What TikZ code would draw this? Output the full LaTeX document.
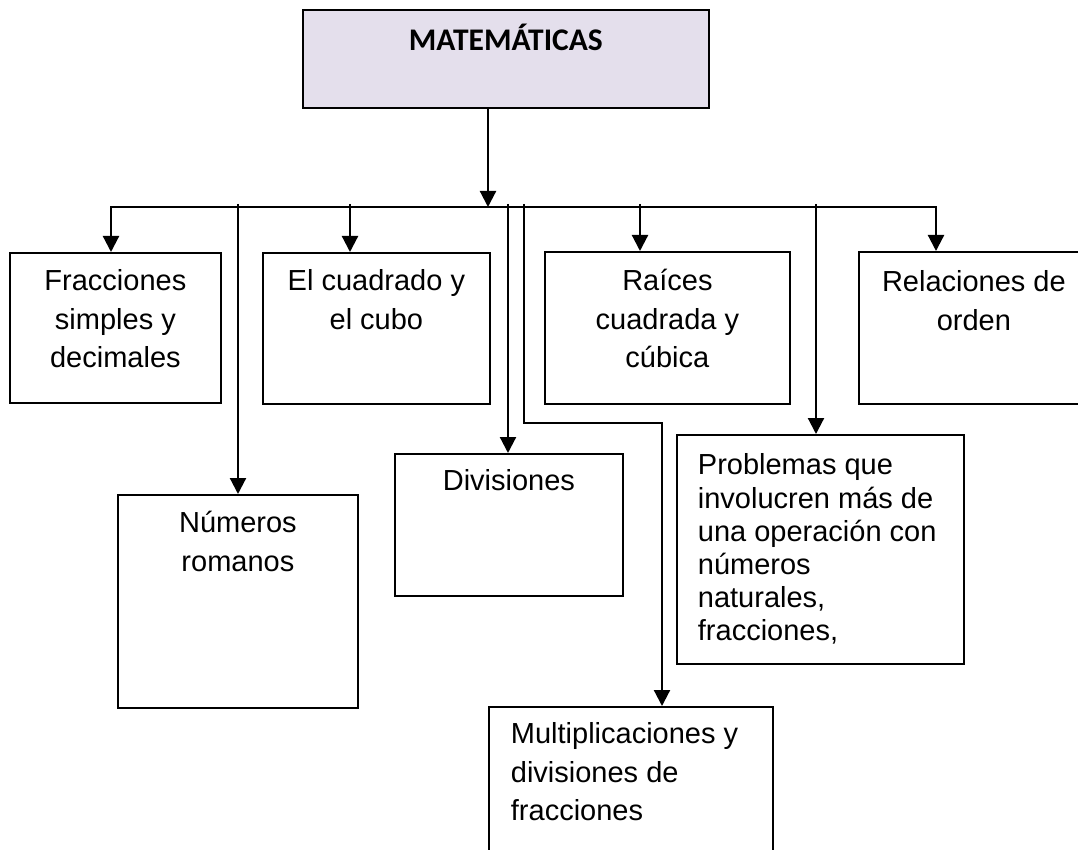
\documentclass[tikz,border=0pt]{standalone}
\usepackage{fontspec}
\setmainfont{Liberation Sans}
\newfontfamily\titlefont{Carlito}
\usetikzlibrary{arrows.meta}
\definecolor{lav}{HTML}{E4DFEC}
% width, height, first-baseline offset, alignment, text
\newcommand{\bxt}[5]{\parbox[c][#2][t]{#1}{#4\rule{0pt}{#3}\ignorespaces#5}}
\begin{document}
\begin{tikzpicture}[x=1pt,y=-1pt,
  box/.style={draw, line width=1.8pt, inner sep=0pt, anchor=north west,
    font=\fontsize{29}{38.5}\selectfont},
  arr/.style={line width=2.2pt, line join=miter, -{Triangle[width=16pt,length=16pt]}}]
\useasboundingbox (0,0) rectangle (1078,850);
% boxes
\node[box, fill=lav, font=\titlefont\bfseries\fontsize{31.5}{36}\selectfont] (top) at (302,9)
  {\bxt{406pt}{98pt}{40.5pt}{\centering}{MATEMÁTICAS}};
\node[box] (frac) at (9,252)
  {\bxt{211pt}{150pt}{38pt}{\centering}{Fracciones\\simples y\\decimales}};
\node[box] (cuad) at (262,252)
  {\bxt{227pt}{151pt}{38pt}{\centering}{El cuadrado y\\el cubo}};
\node[box] (raiz) at (544,251)
  {\bxt{245pt}{152pt}{39pt}{\centering}{Raíces\\cuadrada y\\cúbica}};
\node[box] (rel) at (858,251)
  {\bxt{230pt}{152pt}{40pt}{\centering}{Relaciones de\\orden}};
\node[box] (num) at (117,494)
  {\bxt{240pt}{213pt}{38pt}{\centering}{Números\\romanos}};
\node[box] (div) at (394,453)
  {\bxt{228pt}{142pt}{37pt}{\centering}{Divisiones}};
\node[box, inner xsep=21pt] (prob) at (676,434)
  {\bxt{245pt}{229pt}{40pt}{\fontsize{29}{33.2}\selectfont\raggedright}{Problemas que\\involucren más de\\una operación con\\números\\naturales,\\fracciones,}};
\node[box, inner xsep=22pt] (mult) at (488,706)
  {\bxt{240pt}{170pt}{37pt}{\raggedright}{Multiplicaciones y\\divisiones de\\fracciones}};
% bus coordinates
\coordinate (bm) at (488,207);
\coordinate (bL) at (111,207);
\coordinate (bR) at (936,207);
\coordinate (t2) at (350,204);
\coordinate (t3) at (640,204);
\coordinate (t4) at (238,204);
\coordinate (t5) at (508,204);
\coordinate (t6) at (524,204);
\coordinate (k6) at (662,423);
\coordinate (t7) at (816,204);
% connectors
\draw[arr] (top.south -| bm) -- (bm);
\draw[arr] (bm) -- (bL) -- (bL |- frac.north);
\draw[arr] (bm) -- (bR) -- (bR |- rel.north);
\draw[arr] (t2) -- (t2 |- cuad.north);
\draw[arr] (t3) -- (t3 |- raiz.north);
\draw[arr] (t4) -- (t4 |- num.north);
\draw[arr] (t5) -- (t5 |- div.north);
\draw[arr] (t6) |- (k6) -- (k6 |- mult.north);
\draw[arr] (t7) -- (t7 |- prob.north);
\end{tikzpicture}
\end{document}
